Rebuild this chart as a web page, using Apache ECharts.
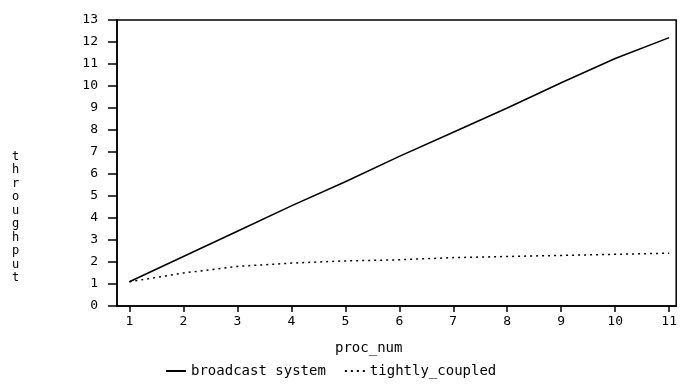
<!DOCTYPE html>
<html>
<head>
<meta charset="utf-8">
<script src="https://cdn.jsdelivr.net/npm/echarts@6/dist/echarts.min.js"></script>
<style>html,body{margin:0;padding:0;background:#fff}#c{width:680px;height:387px}</style>
</head>
<body>
<div id="c"></div>
<script>
var procNum = [1, 2, 3, 4, 5, 6, 7, 8, 9, 10, 11];
var broadcastSystem = [1.1, 2.25, 3.4, 4.55, 5.65, 6.8, 7.9, 9.0, 10.15, 11.25, 12.2];
var tightlyCoupled = [1.1, 1.5, 1.8, 1.95, 2.05, 2.1, 2.2, 2.25, 2.3, 2.35, 2.4];
var xTicks = [1, 2, 3, 4, 5, 6, 7, 8, 9, 10, 11];
var yMin = 0, yMax = 13, yStep = 1;

var FONT = '"DejaVu Sans Mono", monospace';
var chart = echarts.init(document.getElementById('c'), null, {renderer: 'canvas'});
function pairs(xs, ys) { return xs.map(function (x, i) { return [x, ys[i]]; }); }

chart.setOption({
  animation: false,
  backgroundColor: '#fff',
  grid: {left: 117, right: 3, top: 20, bottom: 81, show: true, borderColor: '#000', borderWidth: 1.5, backgroundColor: 'transparent'},
  xAxis: {
    type: 'value', min: 0.77, max: 11.13,
    axisLine: {show: true, onZero: false, lineStyle: {color: '#000', width: 1.5}},
    axisTick: {show: true, inside: false, length: 6, customValues: xTicks, lineStyle: {color: '#000', width: 1.5}},
    axisLabel: {customValues: xTicks, color: '#000', fontFamily: FONT, fontSize: 13, margin: 9},
    splitLine: {show: false}
  },
  yAxis: {
    type: 'value', min: yMin, max: yMax, interval: yStep,
    axisLine: {show: true, lineStyle: {color: '#000', width: 1.5}},
    axisTick: {show: true, inside: false, length: 9, lineStyle: {color: '#000', width: 1.5}},
    axisLabel: {color: '#000', fontFamily: FONT, fontSize: 13, margin: 19},
    splitLine: {show: false}
  },
  legend: {
    left: 160, top: 359, itemWidth: 20, itemHeight: 10, itemGap: 18,
    itemStyle: {color: 'rgba(0,0,0,0)', borderColor: 'rgba(0,0,0,0)', borderWidth: 0, opacity: 0},
    textStyle: {color: '#000', fontFamily: FONT, fontSize: 14},
    data: ['broadcast system', 'tightly_coupled']
  },
  graphic: [
    {type: 'text', left: 335, top: 341, style: {text: 'proc_num', fill: '#000', font: '14px ' + FONT}},
    {type: 'text', left: 12, top: 150, style: {text: 'throughput'.split('').join('\n'), fill: '#000', font: '12px ' + FONT, lineHeight: 13.5}}
  ],
  series: [
    {name: 'broadcast system', type: 'line', data: pairs(procNum, broadcastSystem), symbol: 'none', lineStyle: {color: '#000', width: 1.5, type: 'solid'}, itemStyle: {color: '#000'}},
    {name: 'tightly_coupled', type: 'line', data: pairs(procNum, tightlyCoupled), symbol: 'none', lineStyle: {color: '#000', width: 1.5, type: [2, 4]}, itemStyle: {color: '#000'}}
  ]
});
</script>
</body>
</html>
